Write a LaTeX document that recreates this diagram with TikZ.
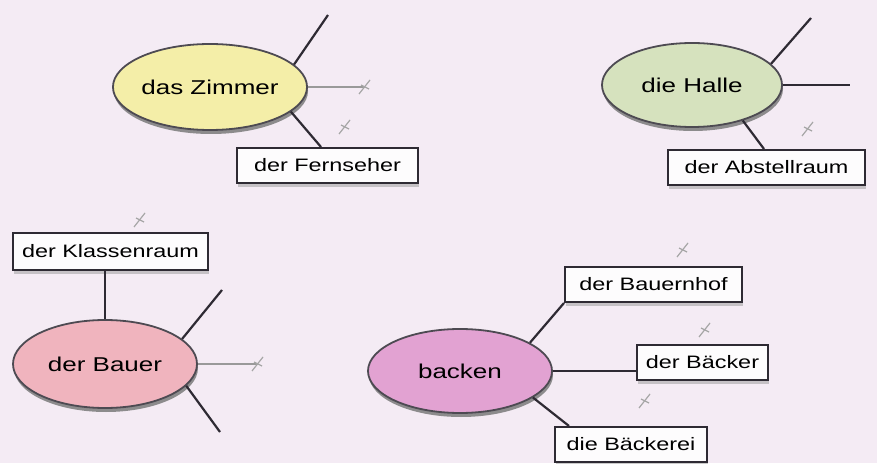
\documentclass[tikz,border=0pt]{standalone}
\usepackage{fontspec}
\setmainfont{Liberation Sans}[FakeStretch=1.3]
\usetikzlibrary{shadows,calc,shapes.geometric}

\definecolor{bgpaper}{HTML}{F4EBF4}
\definecolor{fillyellow}{HTML}{F4EEA8}
\definecolor{fillgreen}{HTML}{D6E2BE}
\definecolor{fillrose}{HTML}{F0B4BE}
\definecolor{fillorchid}{HTML}{E2A2D2}
\definecolor{inkline}{HTML}{2E2A33}

\tikzset{
  x=1pt, y=1pt,
  topic/.style={ellipse, draw=inkline!85, line width=1.8pt,
    inner sep=0pt, font=\fontsize{20}{24}\selectfont,
    drop shadow={shadow xshift=1pt, shadow yshift=-4pt, fill=black!55, opacity=0.8}},
  wordbox/.style={rectangle, draw=inkline, line width=2pt, fill=white!85!bgpaper,
    inner sep=0pt, font=\fontsize{18}{22}\selectfont,
    drop shadow={shadow xshift=1pt, shadow yshift=-4pt, fill=black!35, opacity=0.6}},
  link/.style={draw=inkline, line width=2.2pt},
  faintlink/.style={draw=black!40, line width=1.8pt},
  tick/.style={draw=black!35, line width=1.2pt},
}

% small pencil-like marker
\newcommand{\pencilmark}[1]{%
  \draw[tick] ($(#1)+(-6,-7)$) -- ($(#1)+(5,7)$);
  \draw[tick] ($(#1)+(-4,2)$) -- ($(#1)+(4,-2)$);}

\begin{document}
\begin{tikzpicture}
\fill[bgpaper] (0,0) rectangle (877,463);
\useasboundingbox (0,0) rectangle (877,463);

% ---------- das Zimmer ----------
\node[topic, fill=fillyellow, minimum width=180, minimum height=86] (zim) at (210,376) {das Zimmer};
\node[wordbox, minimum width=181, minimum height=35] (fern) at (327.5,297.5) {der Fernseher};
\coordinate (zimup) at (328,448);
\coordinate (zimright) at (365,376);
\draw[link] (zim.15) -- (zimup);
\draw[faintlink] (zim.east) -- (zimright);
\draw[link] (zim.-17) -- ([xshift=85pt]fern.north west);
\pencilmark{365,376}
\pencilmark{345,336}

% ---------- die Halle ----------
\node[topic, fill=fillgreen, minimum width=180, minimum height=84] (hal) at (692,378) {die Halle};
\node[wordbox, minimum width=197, minimum height=35] (abst) at (766.5,295.5) {der Abstellraum};
\coordinate (halup) at (811,445);
\coordinate (halright) at (850,378);
\draw[link] (hal.15) -- (halup);
\draw[link] (hal.east) -- (halright);
\draw[link] (hal.-35) -- ([xshift=97pt]abst.north west);
\pencilmark{808,334}

% ---------- der Bauer ----------
\node[wordbox, minimum width=195, minimum height=37] (kla) at (110.5,211.5) {der Klassenraum};
\node[topic, fill=fillrose, minimum width=184, minimum height=88] (bau) at (105,99) {der Bauer};
\coordinate (bauup) at (222,173);
\coordinate (bauright) at (258,99);
\coordinate (baudown) at (220,31);
\draw[link] (kla.south -| bau.north) -- (bau.north);
\draw[link] (bau.18) -- (bauup);
\draw[faintlink] (bau.east) -- (bauright);
\draw[link] (bau.-15) -- (baudown);
\pencilmark{258,99}
\pencilmark{140,243}

% ---------- backen ----------
\node[topic, fill=fillorchid, minimum width=184, minimum height=84] (bak) at (460,92) {backen};
\node[wordbox, minimum width=177, minimum height=35] (bxa) at (653.5,178.5) {der Bauernhof};
\node[wordbox, minimum width=131, minimum height=35] (bxb) at (702.5,100.5) {der Bäcker};
\node[wordbox, minimum width=152, minimum height=35] (bxc) at (631,18.5) {die Bäckerei};
\draw[link] (bak.22) -- (bxa.south west);
\draw[link] (bak.east) -- (bak.east -| bxb.west);
\draw[link] (bak.-20) -- ([xshift=15pt]bxc.north west);
\pencilmark{683,213}
\pencilmark{705,133}
\pencilmark{645,62}
\end{tikzpicture}
\end{document}
